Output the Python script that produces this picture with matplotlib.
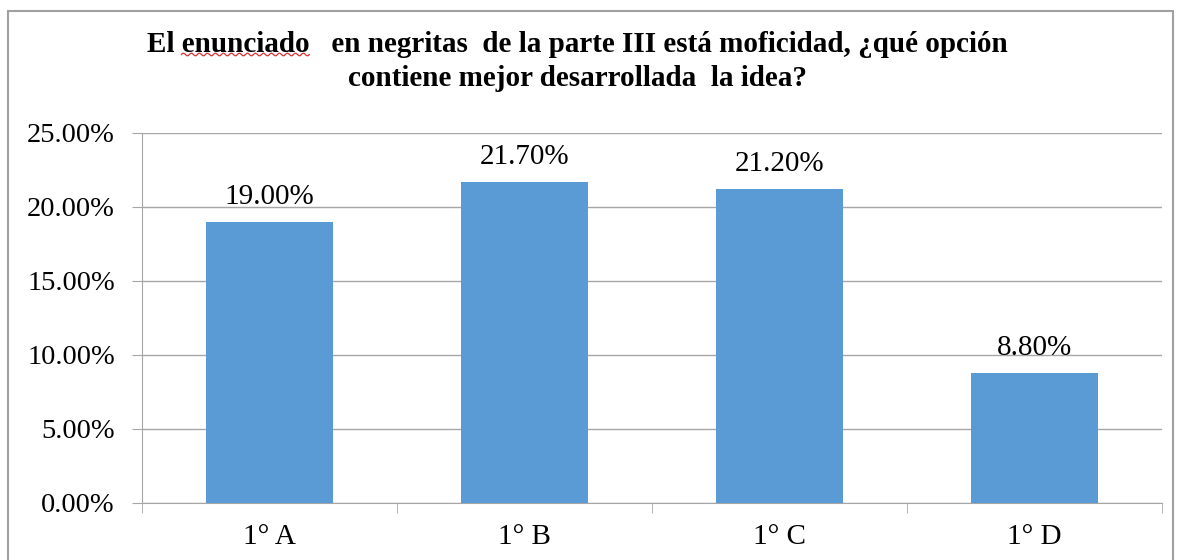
import matplotlib
matplotlib.use("Agg")
import matplotlib.pyplot as plt
import numpy as np
from matplotlib.patches import Rectangle
from matplotlib.lines import Line2D
from matplotlib.ticker import FuncFormatter

categories = ["1° A", "1° B", "1° C", "1° D"]
values = [0.19, 0.217, 0.212, 0.088]
labels = ["19.00%", "21.70%", "21.20%", "8.80%"]
title_l1 = "El enunciado   en negritas  de la parte III está moficidad, ¿qué opción"
title_l2 = "contiene mejor desarrollada  la idea?"

W, H = 1177, 560
fig = plt.figure(figsize=(W/100, H/100), dpi=100)
plt.rcParams['font.family'] = ['Liberation Serif', 'DejaVu Serif']

ax = fig.add_axes([142/W, 1-503/H, (1162-142)/W, (503-133)/H])
x = np.arange(len(categories))
ax.bar(x, values, width=0.5, color="#5B9BD5", zorder=3)
for xi, v, lab in zip(x, values, labels):
    ax.annotate(lab, (xi, v), xytext=(0, 13), textcoords="offset points",
                ha="center", va="baseline", fontsize=21, color="black")

ax.set_xlim(-0.5, len(categories) - 0.5)
ax.set_ylim(0, 0.25)
ax.set_yticks(np.arange(0, 0.2501, 0.05))
ax.yaxis.set_major_formatter(FuncFormatter(lambda v, p: f"{v*100:.2f}%"))
ax.grid(axis="y", color="#A6A6A6", linewidth=1, zorder=0)
ax.set_xticks(x)
ax.set_xticklabels(categories)
ax.set_xticks(np.arange(-0.5, len(categories)), minor=True)
ax.tick_params(axis="x", which="major", length=0, pad=15, labelsize=21)
ax.tick_params(axis="x", which="minor", length=7, color="#A6A6A6")
ax.tick_params(axis="y", length=7, color="#A6A6A6", labelsize=20.5, pad=12.5)
for s in ["top", "right"]:
    ax.spines[s].set_visible(False)
for s in ["left", "bottom"]:
    ax.spines[s].set_color("#A6A6A6")

tfs = 21
cx = 577 / W
t1 = fig.text(cx, 1-52/H, title_l1, ha="center", va="baseline", fontsize=tfs, fontweight="bold")
t2 = fig.text(cx, 1-86/H, title_l2, ha="center", va="baseline", fontsize=tfs, fontweight="bold")

# red spell-check squiggle under "enunciado"
fig.canvas.draw()
r = fig.canvas.get_renderer()
def width_of(s):
    t = fig.text(0, 0, s, fontsize=tfs, fontweight="bold")
    w = t.get_window_extent(r).width
    t.remove()
    return w
bb = t1.get_window_extent(r)
w_el = width_of("El") + (width_of("El e") - width_of("El") - width_of("e"))
w_word = width_of("enunciado")
x0 = bb.x0 + w_el
xs = np.linspace(x0, x0 + w_word, 200)
ys = (H - 54.5) + 1.3 * np.sin((xs - x0) / 4.0 * np.pi)
fig.lines.append(Line2D(xs / W, ys / H, transform=fig.transFigure, color="#E03030", linewidth=0.9))

fig.patches.append(Rectangle((8/W, -0.1), (1173-8)/W, 1.1 - 11/H, transform=fig.transFigure,
                             fill=False, edgecolor="#A0A0A0", linewidth=1.5))

fig.savefig("out.png", dpi=100)
